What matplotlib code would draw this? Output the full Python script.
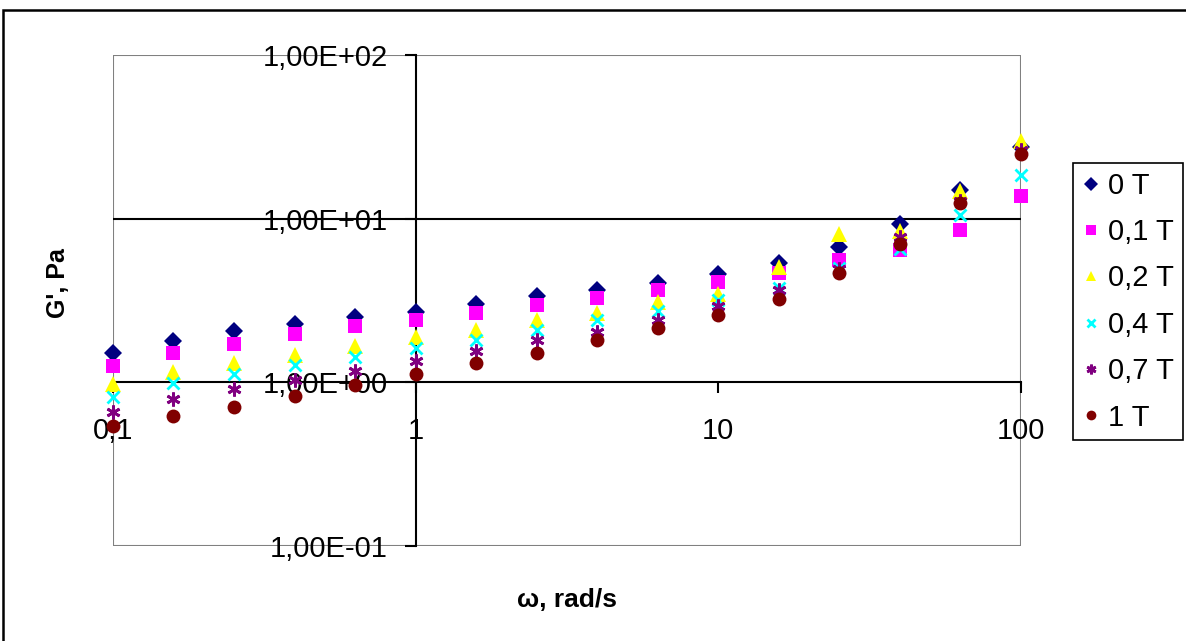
import numpy as np
import matplotlib.pyplot as plt
from matplotlib.patches import Rectangle
from matplotlib.ticker import FixedLocator, NullLocator

plt.rcParams['font.family'] = ['Liberation Sans', 'DejaVu Sans']

# frequency, rad/s
omega = [0.1, 0.158, 0.251, 0.398, 0.631, 1.0, 1.585, 2.51, 3.98, 6.31,
         10.0, 15.85, 25.1, 39.8, 63.1, 100.0]

# G', Pa for each field
g_0T   = [1.51, 1.78, 2.05, 2.28, 2.51, 2.69, 3.03, 3.37, 3.65, 4.06, 4.61, 5.39, 6.71, 9.23, 15.0, 27.4]
g_01T  = [1.26, 1.51, 1.72, 1.98, 2.20, 2.39, 2.67, 2.95, 3.27, 3.68, 4.10, 4.68, 5.56, 6.40, 8.48, 13.7]
g_02T  = [0.98, 1.15, 1.31, 1.46, 1.67, 1.88, 2.08, 2.39, 2.67, 3.09, 3.45, 5.06, 8.02, 8.36, 14.7, 29.8]
g_04T  = [0.81, 0.99, 1.13, 1.28, 1.43, 1.61, 1.82, 2.08, 2.39, 2.72, 3.17, 3.79, 5.00, 6.56, 10.5, 18.6]
g_07T  = [0.66, 0.79, 0.91, 1.03, 1.18, 1.35, 1.55, 1.82, 2.03, 2.39, 2.91, 3.68, 4.95, 7.72, 12.9, 26.4]
g_1T   = [0.54, 0.62, 0.71, 0.83, 0.96, 1.13, 1.32, 1.52, 1.82, 2.15, 2.59, 3.21, 4.68, 7.03, 12.4, 24.9]

labels = ['0 T', '0,1 T', '0,2 T', '0,4 T', '0,7 T', '1 T']
x_ticks = [0.1, 1, 10, 100]
x_tick_labels = ['0,1', '1', '10', '100']
y_ticks = [0.1, 1, 10, 100]
y_tick_labels = ['1,00E-01', '1,00E+00', '1,00E+01', '1,00E+02']

series = [g_0T, g_01T, g_02T, g_04T, g_07T, g_1T]
markers = ['D', 's', '^', 'x', (6, 2, 0), 'o']
colors = ['#000080', '#FF00FF', '#FFFF00', '#00FFFF', '#800080', '#800000']
sizes = [9.5, 9.5, 11, 9, 10, 10]

fig = plt.figure(figsize=(11.86, 6.41), dpi=100)
ax = fig.add_axes([113/1186, 1 - 546/641, (1021 - 113)/1186, (546 - 55)/641])

# outer chart frame (cut off at right/bottom like the original)
fig.patches.append(Rectangle((3/1186, -0.05), 1.2, 1 - 10/641 + 0.05,
                             transform=fig.transFigure, fill=False,
                             edgecolor='black', linewidth=1.8))

for ys, m, c, s, lab in zip(series, markers, colors, sizes, labels):
    mew = 2 if m in ('x', (6, 2, 0)) else 0
    ax.plot(omega, ys, linestyle='none', marker=m, color=c, markersize=s,
            markeredgewidth=mew, label=lab, clip_on=False, zorder=3)

ax.set_xscale('log')
ax.set_yscale('log')
ax.set_xlim(0.1, 100)
ax.set_ylim(0.1, 100)

# gray plot-area border
ax.add_patch(Rectangle((0, 0), 1, 1, transform=ax.transAxes, fill=False,
                       edgecolor='#808080', linewidth=1.5, zorder=1))
ax.axhline(10, color='black', linewidth=1.5, zorder=2)

# axes crossing at 1
for side in ['top', 'right']:
    ax.spines[side].set_visible(False)
ax.spines['left'].set_position(('data', 1))
ax.spines['bottom'].set_position(('data', 1))
for side in ['left', 'bottom']:
    ax.spines[side].set_color('black')
    ax.spines[side].set_linewidth(1.5)
    ax.spines[side].set_zorder(2)

ax.xaxis.set_major_locator(FixedLocator(x_ticks))
ax.yaxis.set_major_locator(FixedLocator(y_ticks))
ax.xaxis.set_minor_locator(NullLocator())
ax.yaxis.set_minor_locator(NullLocator())
ax.set_xticklabels(x_tick_labels)
ax.set_yticklabels(y_tick_labels)
ax.tick_params(axis='x', direction='out', length=8, width=1.5, pad=17, labelsize=21)
ax.tick_params(axis='y', direction='out', length=8, width=1.5, pad=12, labelsize=21)

fig.text(58/1186, 1 - 283/641, "G', Pa", rotation=90, ha='center', va='center',
         fontsize=18, fontweight='bold')
fig.text(567/1186, 1 - 600/641, 'ω, rad/s', ha='center', va='center',
         fontsize=19, fontweight='bold')

leg = fig.legend(loc='upper left', bbox_to_anchor=(1073/1186, 1 - 163/641),
                 borderaxespad=0, fontsize=21, frameon=True, fancybox=False,
                 framealpha=1, edgecolor='black', handlelength=0.6,
                 handletextpad=0.3, labelspacing=0.63, borderpad=0.3,
                 markerscale=0.7)
leg.get_frame().set_linewidth(1.2)

fig.savefig('out.png', dpi=100)
